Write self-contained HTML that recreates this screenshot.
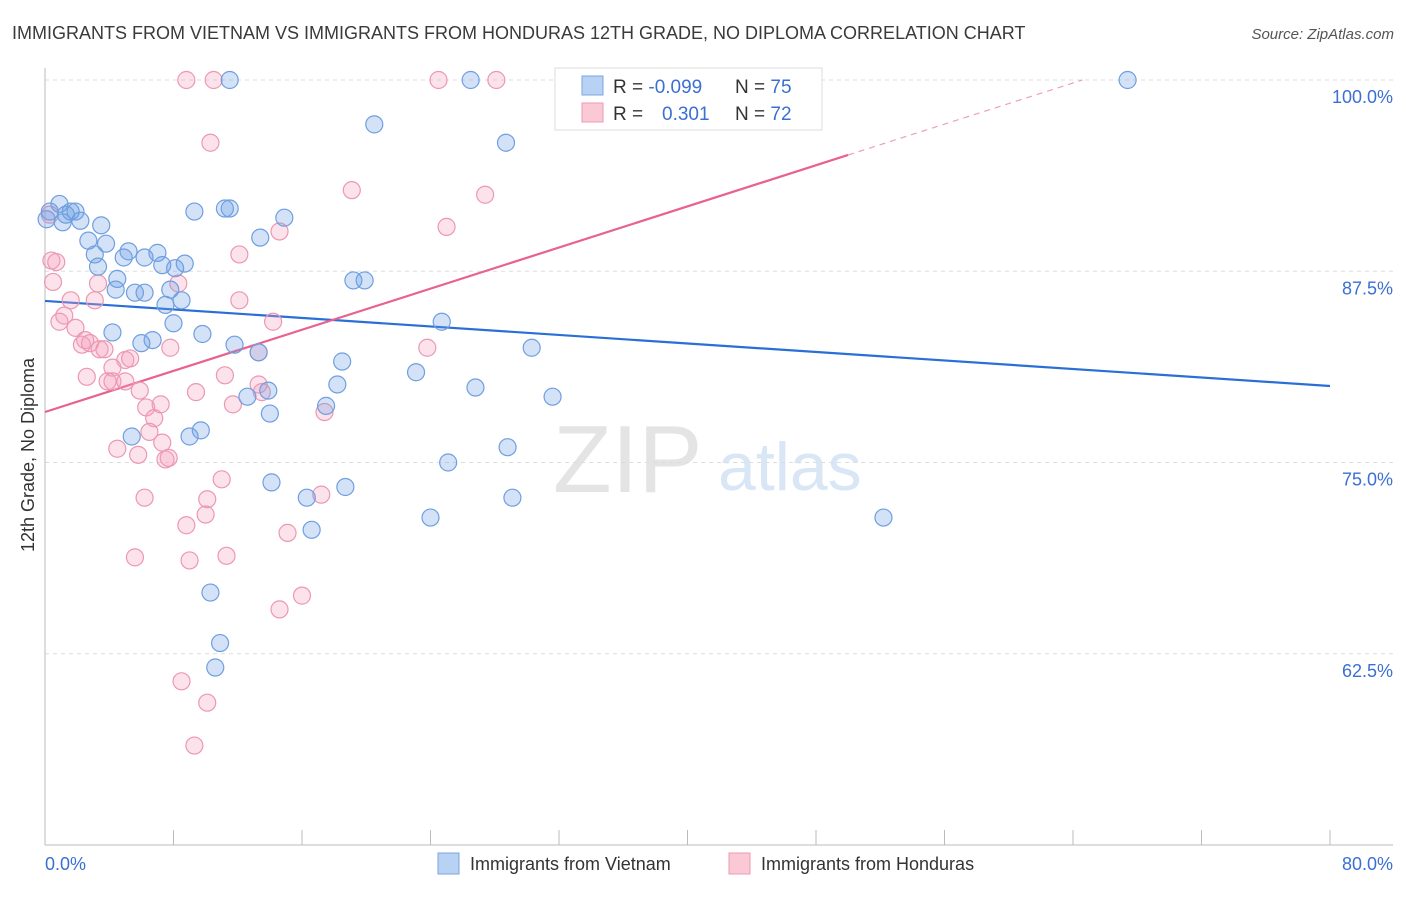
<!DOCTYPE html>
<html><head><meta charset="utf-8"><style>
body{margin:0;background:#fff;font-family:"Liberation Sans",sans-serif;}
svg text{font-family:"Liberation Sans",sans-serif;}
</style></head><body>
<svg id="chart" width="1406" height="892">
<text x="12" y="39" font-size="18" fill="#3a3a3a">IMMIGRANTS FROM VIETNAM VS IMMIGRANTS FROM HONDURAS 12TH GRADE, NO DIPLOMA CORRELATION CHART</text>
<text x="1394" y="39" font-size="15" fill="#555" text-anchor="end" font-style="italic">Source: ZipAtlas.com</text>
<g>
<text x="553" y="492" font-size="96" fill="#e4e4e4" font-family="Liberation Serif,serif">ZIP</text>
<text x="718" y="490" font-size="68" fill="#d8e6f6">atlas</text>
</g>
<g id="grid"></g>
<g id="axes"></g>
<g id="lines"></g>
<g id="pts"></g>
<text transform="translate(34,455) rotate(-90)" font-size="18" fill="#333" text-anchor="middle">12th Grade, No Diploma</text>
<text x="45" y="870" font-size="18" fill="#3b6fd4">0.0%</text>
<text x="1393" y="870" font-size="18" fill="#3b6fd4" text-anchor="end">80.0%</text>
<g>
<rect x="555" y="68" width="267" height="62" fill="#fff" stroke="#ddd"/>
<rect x="582" y="76" width="21" height="19" fill="#b8d2f4" stroke="#7aa6e6"/>
<rect x="582" y="103" width="21" height="19" fill="#fbc8d6" stroke="#ee9ab4"/>
<text x="613" y="93" font-size="19" fill="#333">R = <tspan fill="#3b6fd4">-0.099</tspan></text>
<text x="735" y="93" font-size="19" fill="#333">N = <tspan fill="#3b6fd4">75</tspan></text>
<text x="613" y="120" font-size="19" fill="#333">R = <tspan x="662" fill="#3b6fd4">0.301</tspan></text>
<text x="735" y="120" font-size="19" fill="#333">N = <tspan fill="#3b6fd4">72</tspan></text>
</g>
<g>
<rect x="438" y="853" width="21" height="21" fill="#b8d2f4" stroke="#7aa6e6"/>
<text x="470" y="870" font-size="18" fill="#333">Immigrants from Vietnam</text>
<rect x="729" y="853" width="21" height="21" fill="#fbc8d6" stroke="#ee9ab4"/>
<text x="761" y="870" font-size="18" fill="#333">Immigrants from Honduras</text>
</g>
</svg>
<script>
const yTicks=[100,87.5,75,62.5];
const yTickLabels=["100.0%","87.5%","75.0%","62.5%"];
const xTicks=[0,8,16,24,32,40,48,56,64,72,80];
const vietX=[0.3,0.9,1.3,1.6,1.9,2.2,1.1,3.5,2.7,3.8,3.1,3.3,4.5,4.4,4.9,5.2,6.2,7.0,7.3,8.1,8.7,5.6,6.2,7.5,7.8,8.5,8.0,9.8,4.2,6.7,6.0,11.8,13.3,9.3,11.2,11.5,13.4,14.9,11.5,26.5,20.5,28.7,19.2,19.9,24.7,18.5,23.1,18.2,26.8,30.3,31.6,13.9,12.6,14.0,17.5,9.7,9.0,5.4,28.8,25.1,14.1,18.7,16.3,29.1,24.0,16.6,10.3,10.9,10.6,52.2,67.4,43.1,0.1];
const vietY=[91.4,91.9,91.2,91.4,91.4,90.8,90.7,90.5,89.5,89.3,88.6,87.8,87.0,86.3,88.4,88.8,88.4,88.7,87.9,87.7,88.0,86.1,86.1,85.3,86.3,85.6,84.1,83.4,83.5,83.0,82.8,82.7,82.2,91.4,91.6,91.6,89.7,91.0,100,100,97.1,95.9,86.9,86.9,84.2,81.6,80.9,80.1,79.9,82.5,79.3,79.7,79.3,78.2,78.7,77.1,76.7,76.7,76.0,75.0,73.7,73.4,72.7,72.7,71.4,70.6,66.5,63.2,61.6,71.4,100,100,90.9];
const hondX=[0.3,0.4,0.7,0.5,1.6,0.9,1.2,1.9,2.5,3.1,3.3,2.3,2.8,3.4,3.7,2.6,4.2,3.9,4.2,5.0,5.0,5.3,5.9,6.3,6.8,6.5,7.3,7.5,7.7,5.8,4.5,6.2,5.6,8.8,9.0,10.1,11.0,11.3,9.4,11.2,11.7,13.3,13.5,12.1,14.2,7.8,8.3,12.1,14.6,19.1,25.0,27.4,10.3,8.8,10.5,24.5,28.1,41.5,17.4,17.2,15.1,14.6,16.0,8.5,10.1,9.3,23.8,13.3,10.0,7.2];
const hondY=[91.2,88.2,88.1,86.8,85.6,84.2,84.6,83.8,83.0,85.6,86.7,82.7,82.8,82.4,82.4,80.6,81.2,80.3,80.3,80.3,81.7,81.8,79.7,78.6,77.9,77.0,76.3,75.2,75.3,75.5,75.9,72.7,68.8,70.9,68.6,72.6,73.9,68.9,79.6,80.7,78.8,80.1,79.6,85.6,84.2,82.5,86.7,88.6,90.1,92.8,90.4,92.5,95.9,100,100,100,100,100,78.3,72.9,70.4,65.4,66.3,60.7,59.3,56.5,82.5,82.2,71.6,78.8];
const vietTrend=[85.56,80.0];
const hondTrend=[78.3,95.1];

const NS="http://www.w3.org/2000/svg";
const sx=v=>45+v*(1285/80);
const sy=v=>80+(100-v)*15.3;
function mk(tag,attrs,parent){const e=document.createElementNS(NS,tag);for(const k in attrs)e.setAttribute(k,attrs[k]);document.getElementById(parent).appendChild(e);return e;}
yTicks.forEach((t,i)=>{
 const l=mk('line',{x1:45,x2:1393,y1:sy(t),y2:sy(t),stroke:'#ddd','stroke-dasharray':'4,4'},'grid');
 
 
 const tx=mk('text',{x:1393,y:sy(t)+23,'font-size':18,fill:'#3b6fd4','text-anchor':'end'},'grid');
 tx.textContent=yTickLabels[i];
 
 
});
const ax=mk('line',{x1:45,x2:45,y1:68,y2:845,stroke:'#bbb'},'axes');


const bx=mk('line',{x1:45,x2:1393,y1:845,y2:845,stroke:'#bbb'},'axes');


xTicks.forEach(t=>{
 const l=mk('line',{x1:sx(t),x2:sx(t),y1:830,y2:845,stroke:'#bbb'},'axes');
 
 
});
function dots(xs,ys,fill,stroke,name){
 xs.forEach((x,i)=>{
  const c=mk('circle',{cx:sx(x),cy:sy(ys[i]),r:8.5,fill:fill,stroke:stroke,'stroke-width':1.2},'pts');
  
  
 });
}
dots(hondX,hondY,'rgba(245,160,188,0.3)','#ec98b2','point-honduras');
dots(vietX,vietY,'rgba(110,160,230,0.3)','#6f9fe0','point-vietnam');
const bl=mk('line',{x1:sx(0),y1:sy(vietTrend[0]),x2:sx(80),y2:sy(vietTrend[1]),stroke:'#2a6fd6','stroke-width':2.2},'lines');


const slope=(hondTrend[1]-hondTrend[0])/50;
const xEnd=(100-hondTrend[0])/slope;
const pl=mk('line',{x1:sx(0),y1:sy(hondTrend[0]),x2:sx(50),y2:sy(hondTrend[1]),stroke:'#e8618f','stroke-width':2.2},'lines');


const pd=mk('line',{x1:sx(50),y1:sy(hondTrend[1]),x2:sx(xEnd),y2:sy(100),stroke:'#eca0b8','stroke-width':1.2,'stroke-dasharray':'6,5'},'lines');


</script>
</body></html>
